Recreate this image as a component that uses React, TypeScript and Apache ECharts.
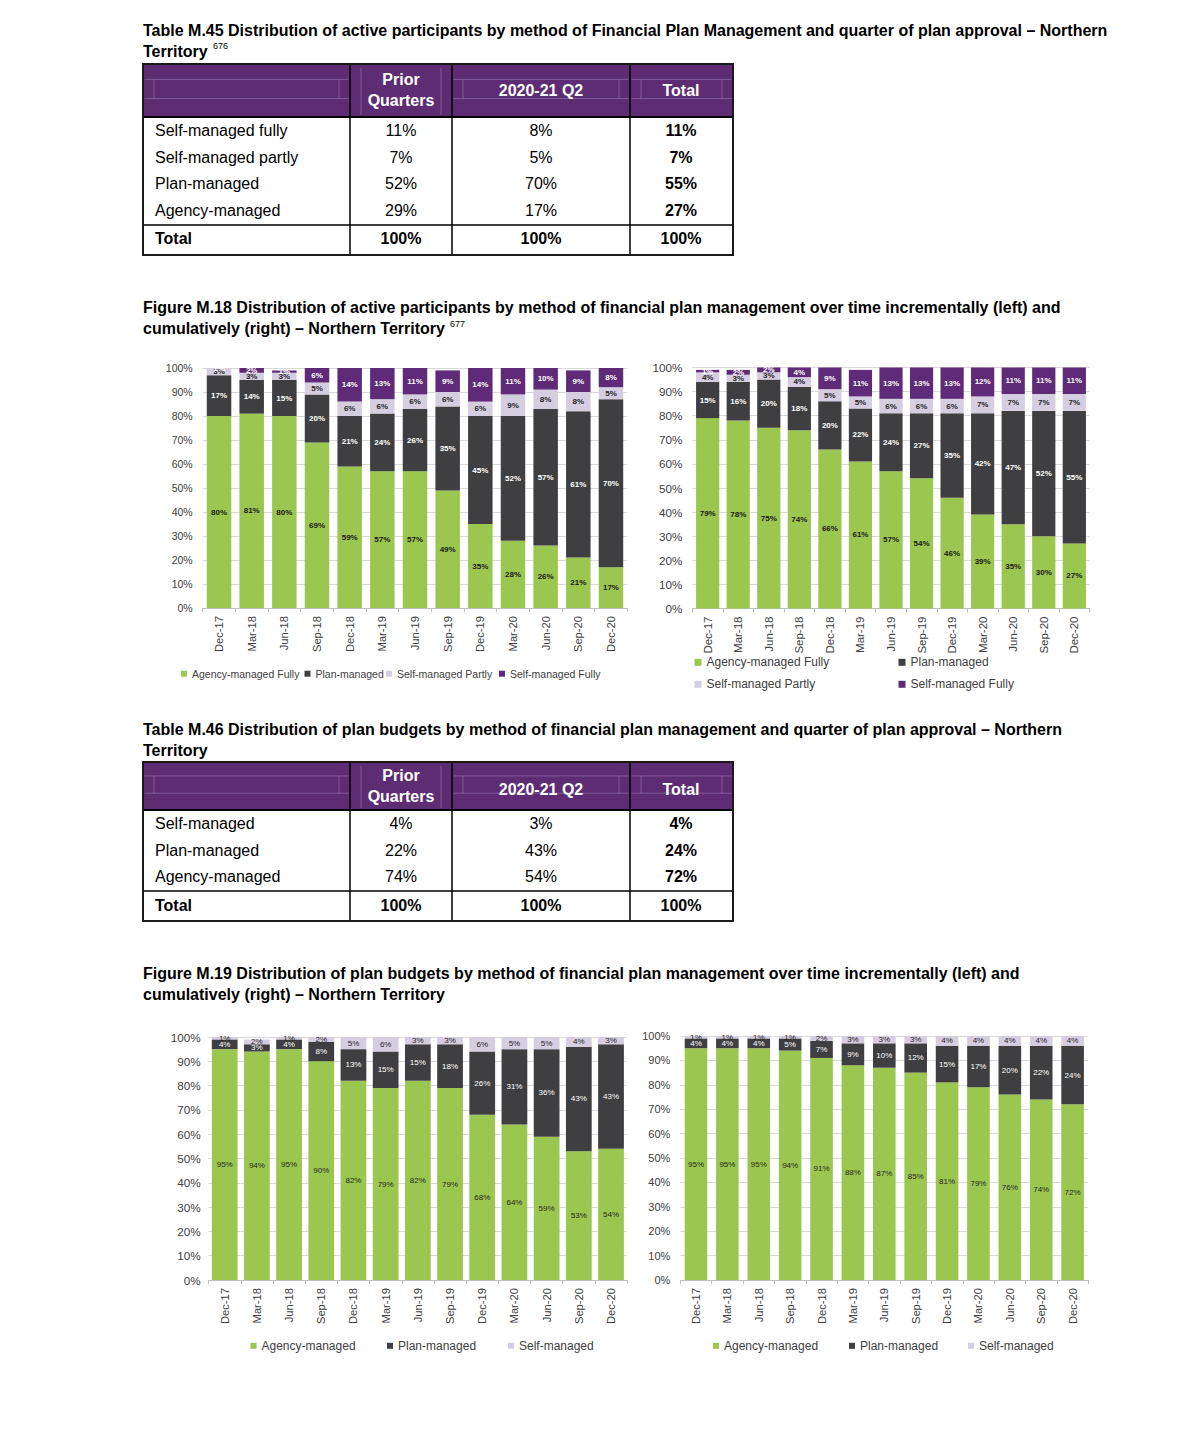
import React, { useEffect, useRef } from "react";
import * as echarts from "echarts";

const FONT = '"Liberation Sans", Arial, Helvetica, sans-serif';
const GREEN = "#9bc64f";
const DARK = "#3f3f41";
const LILAC = "#d5cde0";
const PURPLE = "#5f2a77";
const HEADER = "#5d2c73";
const HEADER_LINE = "#8a67a0";
const INK = "#000000";

// ---------- data ----------
const quarters = ["Dec-17", "Mar-18", "Jun-18", "Sep-18", "Dec-18", "Mar-19", "Jun-19", "Sep-19", "Dec-19", "Mar-20", "Jun-20", "Sep-20", "Dec-20"];

// Figure M.18 (participants) – incremental
const m18IncAgencyFully = [80, 81, 80, 69, 59, 57, 57, 49, 35, 28, 26, 21, 17];
const m18IncPlan = [17, 14, 15, 20, 21, 24, 26, 35, 45, 52, 57, 61, 70];
const m18IncSelfPartly = [3, 3, 3, 5, 6, 6, 6, 6, 6, 9, 8, 8, 5];
const m18IncSelfFully = [1, 2, 1, 6, 14, 13, 11, 9, 14, 11, 10, 9, 8];
// Figure M.18 – cumulative
const m18CumAgencyFully = [79, 78, 75, 74, 66, 61, 57, 54, 46, 39, 35, 30, 27];
const m18CumPlan = [15, 16, 20, 18, 20, 22, 24, 27, 35, 42, 47, 52, 55];
const m18CumSelfPartly = [4, 3, 3, 4, 5, 5, 6, 6, 6, 7, 7, 7, 7];
const m18CumSelfFully = [1, 2, 2, 4, 9, 11, 13, 13, 13, 12, 11, 11, 11];

// Figure M.19 (plan budgets) – incremental
const m19IncAgency = [95, 94, 95, 90, 82, 79, 82, 79, 68, 64, 59, 53, 54];
const m19IncPlan = [4, 3, 4, 8, 13, 15, 15, 18, 26, 31, 36, 43, 43];
const m19IncSelf = [1, 2, 1, 2, 5, 6, 3, 3, 6, 5, 5, 4, 3];
// Figure M.19 – cumulative
const m19CumAgency = [95, 95, 95, 94, 91, 88, 87, 85, 81, 79, 76, 74, 72];
const m19CumPlan = [4, 4, 4, 5, 7, 9, 10, 12, 15, 17, 20, 22, 24];
const m19CumSelf = [1, 1, 1, 1, 2, 3, 3, 3, 4, 4, 4, 4, 4];

// Tables
const tableColumns = ["Prior Quarters", "2020-21 Q2", "Total"];
const t45Rows = ["Self-managed fully", "Self-managed partly", "Plan-managed", "Agency-managed"];
const t45Prior = ["11%", "7%", "52%", "29%"];
const t45Q2 = ["8%", "5%", "70%", "17%"];
const t45Total = ["11%", "7%", "55%", "27%"];
const t46Rows = ["Self-managed", "Plan-managed", "Agency-managed"];
const t46Prior = ["4%", "22%", "74%"];
const t46Q2 = ["3%", "43%", "54%"];
const t46Total = ["4%", "24%", "72%"];
const totalRow = ["100%", "100%", "100%"];

// ---------- helpers ----------
function txt(text: string, x: number, y: number, size: number, opts: any = {}) {
  const align = opts.align || "left";
  return {
    type: "text",
    silent: true,
    style: {
      text,
      x,
      y,
      fill: opts.fill || INK,
      font: `${opts.bold ? "bold " : ""}${size}px ${FONT}`,
      align,
      textAlign: align,
      verticalAlign: "middle",
      textVerticalAlign: "middle",
    },
  };
}
function line(x1: number, y1: number, x2: number, y2: number, w: number, color = INK) {
  return { type: "line", silent: true, shape: { x1, y1, x2, y2 }, style: { stroke: color, lineWidth: w } };
}

const COLS = [143, 350, 452, 630, 733];
const centers = [401, 541, 681];

function table(top: number, headBottom: number, rowYs: number[], sepY: number, totalY: number, bottom: number,
  labels: string[], cols: string[][], headYs: { prior: number[]; other: number }) {
  const els: any[] = [];
  const hh = headBottom - top;
  els.push({ type: "rect", silent: true, shape: { x: COLS[0], y: top, width: COLS[4] - COLS[0], height: hh }, style: { fill: HEADER } });
  // faint inner cell frames of the header
  const ya = top + hh * 0.29;
  const yb = top + hh * 0.65;
  [0, 2, 3].forEach((c) => {
    els.push(line(COLS[c] + 1.5, ya, COLS[c + 1] - 1.5, ya, 0.8, HEADER_LINE));
    els.push(line(COLS[c] + 1.5, yb, COLS[c + 1] - 1.5, yb, 0.8, HEADER_LINE));
    els.push(line(COLS[c] + 11, ya, COLS[c] + 11, yb, 0.8, HEADER_LINE));
    els.push(line(COLS[c + 1] - 11, ya, COLS[c + 1] - 11, yb, 0.8, HEADER_LINE));
  });
  els.push(line(COLS[1] + 11, top + 4, COLS[1] + 11, headBottom - 2, 0.8, HEADER_LINE));
  els.push(line(COLS[2] - 11, top + 4, COLS[2] - 11, headBottom - 2, 0.8, HEADER_LINE));
  // header texts
  els.push(txt("Prior", centers[0], headYs.prior[0], 16, { bold: true, fill: "#fff", align: "center" }));
  els.push(txt("Quarters", centers[0], headYs.prior[1], 16, { bold: true, fill: "#fff", align: "center" }));
  els.push(txt(tableColumns[1], centers[1], headYs.other, 16, { bold: true, fill: "#fff", align: "center" }));
  els.push(txt(tableColumns[2], centers[2], headYs.other, 16, { bold: true, fill: "#fff", align: "center" }));
  labels.forEach((lab, i) => {
    els.push(txt(lab, 155, rowYs[i], 16));
    for (let c = 0; c < 3; c++) {
      els.push(txt(cols[c][i], centers[c], rowYs[i], 16, { align: "center", bold: c === 2 }));
    }
  });
  els.push(txt("Total", 155, totalY, 16, { bold: true }));
  totalRow.forEach((v, c) => els.push(txt(v, centers[c], totalY, 16, { bold: true, align: "center" })));
  // lines
  els.push(line(COLS[0], headBottom, COLS[4], headBottom, 2));
  els.push(line(COLS[0], sepY, COLS[4], sepY, 1.5));
  for (let c = 1; c < 4; c++) els.push(line(COLS[c], top, COLS[c], bottom, 1.5));
  els.push({ type: "rect", silent: true, shape: { x: COLS[0], y: top, width: COLS[4] - COLS[0], height: bottom - top }, style: { fill: "none", stroke: "#1a1a1a", lineWidth: 2 } });
  return els;
}

const grids = [
  { left: 202.7, top: 368, width: 424.6, height: 240 },
  { left: 692.4, top: 367.5, width: 397.2, height: 241 },
  { left: 208.6, top: 1037, width: 418.5, height: 243 },
  { left: 680.3, top: 1036, width: 408, height: 244 },
];
const yLabelSize = [10.5, 11.7, 11.7, 11];
const yLabelMargin = [10, 10, 8, 10];
const xLabelSize = [11.2, 11.5, 11.2, 11.2];
const gaps = ["25%", "24%", "20%", "28%"];

function bar(name: string, data: number[], color: string, labelColor: string, idx: number, bold: boolean) {
  return {
    name,
    type: "bar",
    stack: "s" + idx,
    xAxisIndex: idx,
    yAxisIndex: idx,
    data,
    barCategoryGap: gaps[idx],
    clip: true,
    itemStyle: { color },
    label: {
      show: true,
      position: "inside",
      formatter: "{c}%",
      color: labelColor,
      fontSize: 8,
      fontWeight: bold ? "bold" : "normal",
      fontFamily: FONT,
    },
    emphasis: { disabled: true },
  };
}

function leg(name: string, textLeft: number, cy: number, size: number, iw: number) {
  return {
    data: [name],
    left: textLeft - 5 - iw,
    top: cy - size * 0.6,
    padding: 0,
    itemGap: 0,
    itemWidth: iw,
    itemHeight: iw,
    icon: "rect",
    selectedMode: false,
    textStyle: { fontSize: size, color: "#404040", fontFamily: FONT },
  };
}

function buildOption() {
  const graphics: any[] = [];
  // Table M.45 title
  graphics.push(txt("Table M.45 Distribution of active participants by method of Financial Plan Management and quarter of plan approval – Northern", 143, 30, 16, { bold: true }));
  graphics.push(txt("Territory", 143, 51, 16, { bold: true }));
  graphics.push(txt("676", 213, 46, 9));
  graphics.push(...table(64, 117, [130, 157, 183, 210], 225, 238, 255, t45Rows, [t45Prior, t45Q2, t45Total], { prior: [79, 100], other: 90 }));
  // Figure M.18 title
  graphics.push(txt("Figure M.18 Distribution of active participants by method of financial plan management over time incrementally (left) and", 143, 307, 16, { bold: true }));
  graphics.push(txt("cumulatively (right) – Northern Territory", 143, 328, 16, { bold: true }));
  graphics.push(txt("677", 450, 324, 9));
  // Table M.46
  graphics.push(txt("Table M.46 Distribution of plan budgets by method of financial plan management and quarter of plan approval – Northern", 143, 729, 16, { bold: true }));
  graphics.push(txt("Territory", 143, 750, 16, { bold: true }));
  graphics.push(...table(762, 810, [823, 850, 876], 891, 905, 921, t46Rows, [t46Prior, t46Q2, t46Total], { prior: [775, 796], other: 789 }));
  // Figure M.19 title
  graphics.push(txt("Figure M.19 Distribution of plan budgets by method of financial plan management over time incrementally (left) and", 143, 973, 16, { bold: true }));
  graphics.push(txt("cumulatively (right) – Northern Territory", 143, 994, 16, { bold: true }));

  const xAxis = grids.map((_, i) => ({
    type: "category",
    gridIndex: i,
    data: quarters,
    axisLine: { show: true, lineStyle: { color: "#bfbfbf", width: 1 } },
    axisTick: { show: true, length: 4, interval: 0, lineStyle: { color: "#bfbfbf" } },
    axisLabel: { rotate: 90, interval: 0, margin: 8, fontSize: xLabelSize[i], color: "#404040", fontFamily: FONT },
  }));
  const yAxis = grids.map((_, i) => ({
    type: "value",
    gridIndex: i,
    min: 0,
    max: 100,
    interval: 10,
    axisLine: { show: false },
    axisTick: { show: false },
    splitLine: { show: true, lineStyle: { color: "#d9d9d9", width: 1 } },
    axisLabel: { formatter: "{value}%", fontSize: yLabelSize[i], margin: yLabelMargin[i], color: "#404040", fontFamily: FONT },
  }));

  const series = [
    bar("Agency-managed Fully", m18IncAgencyFully, GREEN, "#1a1a1a", 0, true),
    bar("Plan-managed", m18IncPlan, DARK, "#ffffff", 0, true),
    bar("Self-managed Partly", m18IncSelfPartly, LILAC, "#262626", 0, true),
    bar("Self-managed Fully", m18IncSelfFully, PURPLE, "#ffffff", 0, true),
    bar("Agency-managed Fully", m18CumAgencyFully, GREEN, "#1a1a1a", 1, true),
    bar("Plan-managed", m18CumPlan, DARK, "#ffffff", 1, true),
    bar("Self-managed Partly", m18CumSelfPartly, LILAC, "#262626", 1, true),
    bar("Self-managed Fully", m18CumSelfFully, PURPLE, "#ffffff", 1, true),
    bar("Agency-managed", m19IncAgency, GREEN, "#262626", 2, false),
    bar("Plan-managed", m19IncPlan, DARK, "#ffffff", 2, false),
    bar("Self-managed", m19IncSelf, LILAC, "#262626", 2, false),
    bar("Agency-managed", m19CumAgency, GREEN, "#262626", 3, false),
    bar("Plan-managed", m19CumPlan, DARK, "#ffffff", 3, false),
    bar("Self-managed", m19CumSelf, LILAC, "#262626", 3, false),
  ];

  const legend = [
    leg("Agency-managed Fully", 192, 674.5, 10.5, 6),
    leg("Plan-managed", 315.5, 674.5, 10.5, 6),
    leg("Self-managed Partly", 397, 674.5, 10.5, 6),
    leg("Self-managed Fully", 510, 674.5, 10.5, 6),
    leg("Agency-managed Fully", 706.5, 663.5, 12, 7),
    leg("Plan-managed", 910.5, 663.5, 12, 7),
    leg("Self-managed Partly", 706.5, 685.5, 12, 7),
    leg("Self-managed Fully", 910.5, 685.5, 12, 7),
    leg("Agency-managed", 261.5, 1347, 12, 6),
    leg("Plan-managed", 398, 1347, 12, 6),
    leg("Self-managed", 519, 1347, 12, 6),
    leg("Agency-managed", 724, 1347, 12, 6),
    leg("Plan-managed", 860, 1347, 12, 6),
    leg("Self-managed", 979, 1347, 12, 6),
  ];

  return {
    animation: false,
    backgroundColor: "#ffffff",
    textStyle: { fontFamily: FONT },
    grid: grids.map((g) => ({ ...g, containLabel: false })),
    xAxis,
    yAxis,
    series,
    legend,
    graphic: { elements: graphics },
  };
}

export default function App() {
  const ref = useRef<HTMLDivElement>(null);
  useEffect(() => {
    document.body.style.margin = "0";
    const chart = echarts.init(ref.current!, null, { renderer: "svg", width: 1180, height: 1444 });
    chart.setOption(buildOption() as any);
    return () => chart.dispose();
  }, []);
  return (
    <div
      ref={ref}
      style={{ position: "absolute", left: 0, top: 0, width: 1180, height: 1444, background: "#ffffff", overflow: "hidden" }}
    />
  );
}
